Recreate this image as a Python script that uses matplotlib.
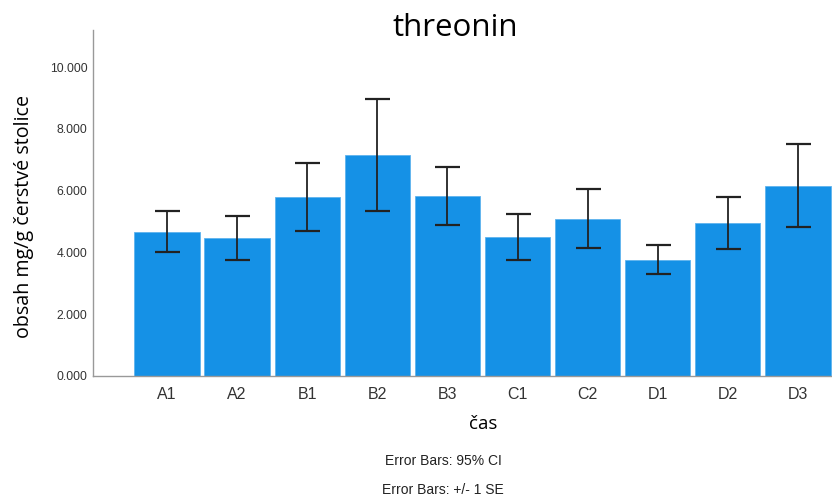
import numpy as np
import matplotlib.pyplot as plt

# --- data ---
categories = ["A1", "A2", "B1", "B2", "B3", "C1", "C2", "D1", "D2", "D3"]
means = [4.67, 4.47, 5.78, 7.14, 5.83, 4.50, 5.09, 3.75, 4.95, 6.16]
err_low = [4.00, 3.75, 4.68, 5.34, 4.88, 3.74, 4.13, 3.30, 4.11, 4.81]
err_high = [5.35, 5.18, 6.88, 8.96, 6.77, 5.25, 6.05, 4.23, 5.79, 7.52]
yticks = [0, 2, 4, 6, 8, 10]

W, H = 832, 499
fig = plt.figure(figsize=(W / 100, H / 100), dpi=100)
ax = fig.add_axes([93 / W, 1 - 376 / H, 1 - 93 / W, (376 - 30) / H])

x = np.arange(len(categories))
m = np.array(means)
yerr = np.vstack((m - np.array(err_low), np.array(err_high) - m))

ax.bar(x, m, width=0.93, color="#1591e6", edgecolor="#5fb3ee", linewidth=0.6, zorder=2)
ax.errorbar(x, m, yerr=yerr, fmt="none", ecolor="#222222", elinewidth=1.3,
            capsize=9, capthick=1.6, zorder=3)

ax.set_xlim(-1.055, 9.485)
ax.set_ylim(0, 11.2)
ax.set_xticks(x)
ax.set_xticklabels(categories, fontsize=11.5, color="#333333", family="Liberation Sans")
ax.set_yticks(yticks)
ax.set_yticklabels([f"{v:.3f}" for v in yticks], fontsize=8.8, color="#333333",
                   family="Liberation Sans")
ax.tick_params(length=0)
ax.tick_params(axis="x", pad=8)
ax.tick_params(axis="y", pad=4)

for s in ["top", "right"]:
    ax.spines[s].set_visible(False)
for s in ["left", "bottom"]:
    ax.spines[s].set_color("#999999")
    ax.spines[s].set_linewidth(1.0)

ax.set_ylabel("obsah mg/g čerstvé stolice", fontsize=14.2, family="Open Sans")
ax.yaxis.set_label_coords(-0.080, 0.46)

fig.text(455 / W, 1 - 28 / H, "threonin", fontsize=22.5, family="Open Sans",
         ha="center", va="center")
fig.text(483 / W, 1 - 424 / H, "čas", fontsize=13.5, family="Open Sans",
         ha="center", va="center")
fig.text(443 / W, 1 - 461 / H, "Error Bars: 95% CI", fontsize=10,
         family="Liberation Sans", ha="center", va="center", color="#222222")
fig.text(443 / W, 1 - 490 / H, "Error Bars: +/- 1 SE", fontsize=10,
         family="Liberation Sans", ha="center", va="center", color="#222222")

fig.savefig("out.png", dpi=100)
